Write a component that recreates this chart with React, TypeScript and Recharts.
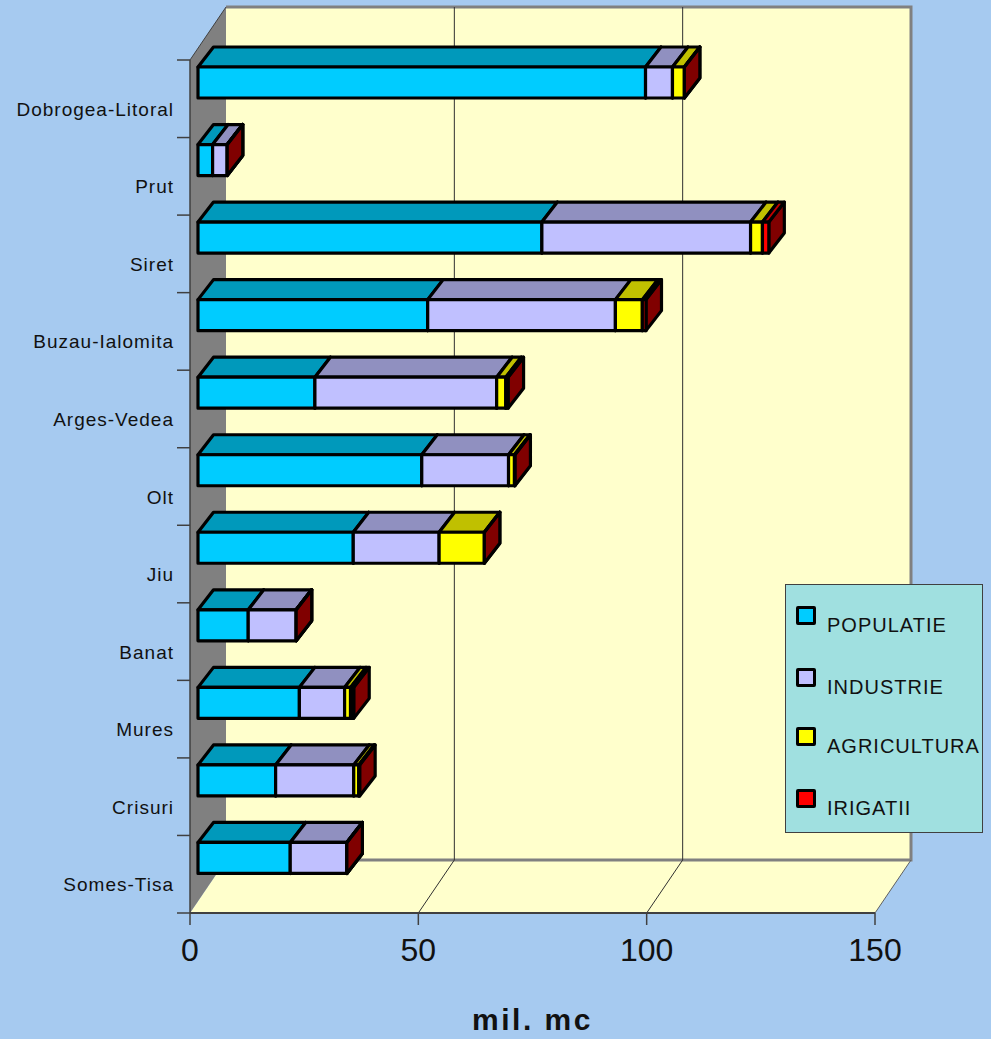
import React from "react";
import { BarChart, Bar, XAxis, YAxis, CartesianGrid, Legend } from "recharts";

const regions = ["Dobrogea-Litoral", "Prut", "Siret", "Buzau-Ialomita", "Arges-Vedea", "Olt", "Jiu", "Banat", "Mures", "Crisuri", "Somes-Tisa"];
const populatie = [98, 3.2, 75.3, 50.3, 25.6, 49, 34, 11, 22.2, 17, 20.2];
const industrie = [5.9, 3.2, 45.7, 41.1, 39.8, 19, 18.8, 10.5, 9.9, 17.1, 12.4];
const agricultura = [2.6, 0, 2.6, 5.9, 2, 1.3, 9.9, 0, 1.3, 1.1, 0];
const irigatii = [0, 0, 1.4, 0.8, 0.5, 0.1, 0, 0, 0.7, 0.2, 0];
const xTicks = [0, 50, 100, 150];

const data = regions.map((name, i) => ({
  name,
  POPULATIE: populatie[i],
  INDUSTRIE: industrie[i],
  AGRICULTURA: agricultura[i],
  IRIGATII: irigatii[i],
}));

const series = [
  { key: "POPULATIE", fill: "#00ccff", top: "#0099bb" },
  { key: "INDUSTRIE", fill: "#c0c0ff", top: "#9090c0" },
  { key: "AGRICULTURA", fill: "#ffff00", top: "#c0c000" },
  { key: "IRIGATII", fill: "#ff0000", top: "#c00000" },
];

const FONT = "'Liberation Sans', Arial, sans-serif";
const W = 991;
const H = 1039;
const LEFT = 190;
const RIGHT = 875;
const TOP = 60;
const BOTTOM = 913;
const DEPTH_X = 36;
const DEPTH_Y = 53;
const BAND = (BOTTOM - TOP) / regions.length;

// box walls, in their own svg behind the transparent chart
function Walls() {
  return (
    <svg width={W} height={H} style={{ position: "absolute", left: 0, top: 0 }}>
      <polygon points={`${LEFT + DEPTH_X},${TOP - DEPTH_Y} ${RIGHT + DEPTH_X},${TOP - DEPTH_Y} ${RIGHT + DEPTH_X},${BOTTOM - DEPTH_Y} ${LEFT + DEPTH_X},${BOTTOM - DEPTH_Y}`} fill="#ffffcc" />
      <polygon points={`${LEFT},${BOTTOM} ${LEFT + DEPTH_X},${BOTTOM - DEPTH_Y} ${RIGHT + DEPTH_X},${BOTTOM - DEPTH_Y} ${RIGHT},${BOTTOM}`} fill="#ffffcc" />
      <polygon points={`${LEFT},${TOP} ${LEFT + DEPTH_X},${TOP - DEPTH_Y} ${LEFT + DEPTH_X},${BOTTOM - DEPTH_Y} ${LEFT},${BOTTOM}`} fill="#808080" />
      <polyline points={`${LEFT + DEPTH_X},${TOP - DEPTH_Y} ${RIGHT + DEPTH_X},${TOP - DEPTH_Y} ${RIGHT + DEPTH_X},${BOTTOM - DEPTH_Y} ${LEFT + DEPTH_X},${BOTTOM - DEPTH_Y}`} fill="none" stroke="#808080" strokeWidth={3} />
      <line x1={LEFT} y1={TOP} x2={LEFT + DEPTH_X} y2={TOP - DEPTH_Y} stroke="#404040" strokeWidth={1} />
      <line x1={RIGHT} y1={BOTTOM} x2={RIGHT + DEPTH_X} y2={BOTTOM - DEPTH_Y} stroke="#606060" strokeWidth={1} />
      <line x1={LEFT - 13} y1={TOP} x2={LEFT} y2={TOP} stroke="#404040" strokeWidth={1.5} />
    </svg>
  );
}

function GridLine(props: any) {
  const { x1, y2 } = props;
  if (x1 <= LEFT + 1 || x1 >= RIGHT - 1) return <g />;
  return (
    <polyline
      points={`${x1},${y2} ${x1 + DEPTH_X},${y2 - DEPTH_Y} ${x1 + DEPTH_X},${TOP - DEPTH_Y}`}
      fill="none"
      stroke="#303030"
      strokeWidth={1}
    />
  );
}

// one stacked segment as a little box
function Box3D(props: any) {
  const { x, y, width, height, fill, top } = props;
  const bx = x + 8;
  const by = y - 16;
  const dx = 15.5;
  const dy = 20;
  const line = { stroke: "#000", strokeWidth: 3.2, strokeLinejoin: "round" as const };
  return (
    <g>
      <polygon points={`${bx + width},${by} ${bx + width + dx},${by - dy} ${bx + width + dx},${by + height - dy} ${bx + width},${by + height}`} fill="#800000" {...line} />
      <polygon points={`${bx},${by} ${bx + dx},${by - dy} ${bx + width + dx},${by - dy} ${bx + width},${by}`} fill={top} {...line} />
      <rect x={bx} y={by} width={width} height={height} fill={fill} {...line} />
    </g>
  );
}

function CategoryTick(props: any) {
  const { y, payload } = props;
  return (
    <g>
      <line x1={LEFT - 13} y1={y + BAND / 2} x2={LEFT} y2={y + BAND / 2} stroke="#404040" strokeWidth={1.5} />
      <text x={174} y={y + 17} textAnchor="end" fontFamily={FONT} fontSize={19} letterSpacing={1} fill="#111">
        {payload.value}
      </text>
    </g>
  );
}

function LegendBox() {
  return (
    <div style={{ position: "relative", boxSizing: "border-box", width: 198, height: 249, background: "#a0e0e0", border: "1px solid #404040", fontFamily: FONT }}>
      {series.map((s, i) => (
        <div key={s.key} style={{ position: "absolute", left: 10, top: [21, 83, 142, 204][i], display: "block" }}>
          <div style={{ boxSizing: "border-box", width: 20, height: 19, background: s.fill, border: "3px solid #000", borderRadius: 2 }} />
          <div style={{ position: "absolute", left: 31, top: 7, fontSize: 20, letterSpacing: 1, lineHeight: "24px", color: "#111", whiteSpace: "nowrap" }}>{s.key}</div>
        </div>
      ))}
    </div>
  );
}

export default function App() {
  return (
    <div style={{ position: "absolute", left: 0, top: 0, width: W, height: H, background: "#a6caf0", fontFamily: FONT }}>
      <Walls />
      <BarChart
        width={W}
        height={H}
        data={data}
        layout="vertical"
        margin={{ top: TOP, right: W - RIGHT, bottom: 0, left: 0 }}
        barSize={31}
        barCategoryGap={0}
      >
        <CartesianGrid horizontal={false} vertical={GridLine as any} />
        <XAxis
          type="number"
          domain={[0, 150]}
          ticks={xTicks}
          height={H - BOTTOM}
          axisLine={{ stroke: "#404040", strokeWidth: 2 }}
          tickLine={{ stroke: "#404040", strokeWidth: 1.5 }}
          tickSize={12}
          tickMargin={13}
          tick={{ fontSize: 32, fill: "#111", fontFamily: FONT }}
          label={{ value: "mil. mc", position: "insideBottom", offset: 9, fontSize: 30, fontWeight: "bold", fill: "#111", letterSpacing: 2.5, fontFamily: FONT }}
        />
        <YAxis
          type="category"
          dataKey="name"
          width={LEFT}
          interval={0}
          axisLine={{ stroke: "#404040", strokeWidth: 1.5 }}
          tickLine={false}
          tick={<CategoryTick />}
        />
        {series.map((s) => (
          <Bar
            key={s.key}
            dataKey={s.key}
            stackId="a"
            fill={s.fill}
            isAnimationActive={false}
            shape={(p: any) => <Box3D {...p} fill={s.fill} top={s.top} />}
          />
        ))}
        <Legend
          layout="horizontal"
          verticalAlign="middle"
          align="center"
          content={<LegendBox />}
          wrapperStyle={{ position: "absolute", left: 785, top: 584, width: 198, height: 249 }}
        />
      </BarChart>
    </div>
  );
}
